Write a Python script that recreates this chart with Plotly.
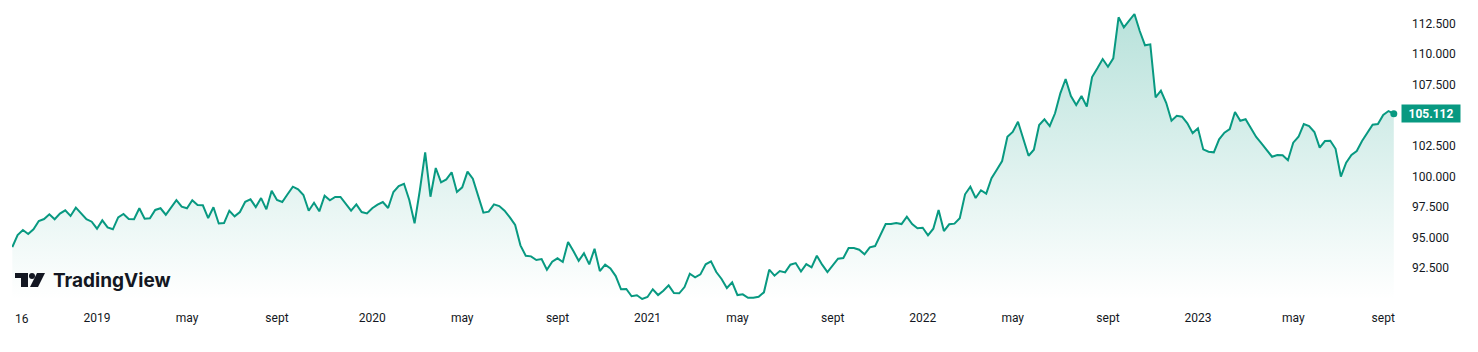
import pandas as pd
import plotly.graph_objects as go

# ---------------- data (weekly closes) ----------------
start_date = "2018-09-16"
dxy_close = [
    94.22, 95.20, 95.61, 95.29, 95.67, 96.35, 96.51, 96.90, 96.49, 96.95,
    97.22, 96.76, 97.44, 96.98, 96.49, 96.29, 95.72, 96.40, 95.83, 95.67,
    96.65, 96.92, 96.51, 96.49, 97.39, 96.54, 96.57, 97.25, 97.39, 96.86,
    97.44, 98.06, 97.52, 97.39, 98.04, 97.65, 97.63, 96.59, 97.47, 96.14,
    96.18, 97.19, 96.73, 97.08, 97.92, 98.12, 97.49, 98.22, 97.30, 98.82,
    98.06, 97.90, 98.53, 99.15, 98.93, 98.47, 97.19, 97.84, 97.14, 98.41,
    98.04, 98.31, 98.31, 97.71, 97.19, 97.71, 97.08, 96.97, 97.39, 97.68,
    97.90, 97.41, 98.72, 99.20, 99.39, 98.06, 96.16, 98.88, 101.96, 98.33,
    100.68, 99.51, 99.75, 100.33, 98.72, 99.10, 100.38, 99.80, 98.39, 97.03,
    97.11, 97.71, 97.57, 97.19, 96.65, 96.02, 94.36, 93.51, 93.46, 93.16,
    93.24, 92.37, 93.02, 93.30, 93.00, 94.63, 93.89, 93.10, 93.71, 92.81,
    94.08, 92.26, 92.78, 92.48, 91.85, 90.77, 90.79, 90.20, 90.28, 89.98,
    90.14, 90.77, 90.30, 90.65, 91.09, 90.47, 90.44, 90.95, 92.04, 91.75,
    91.99, 92.81, 93.05, 92.18, 91.61, 90.87, 91.34, 90.30, 90.36, 90.08,
    90.08, 90.16, 90.52, 92.37, 91.88, 92.26, 92.15, 92.78, 92.91, 92.22,
    92.83, 92.56, 93.51, 92.78, 92.18, 92.73, 93.27, 93.32, 94.14, 94.14,
    94.00, 93.63, 94.20, 94.30, 95.18, 96.10, 96.10, 96.18, 96.10, 96.70,
    96.10, 95.75, 95.80, 95.18, 95.72, 97.25, 95.53, 96.08, 96.13, 96.57,
    98.53, 99.15, 98.23, 98.86, 98.58, 99.84, 100.54, 101.25, 103.23, 103.62,
    104.46, 103.02, 101.68, 102.17, 104.19, 104.66, 104.11, 105.15, 106.78, 107.95,
    106.56, 105.82, 106.56, 105.69, 108.11, 108.82, 109.58, 108.95, 109.64, 112.99,
    112.17, 112.71, 113.26, 111.87, 110.70, 110.78, 106.45, 106.99, 106.01, 104.54,
    104.95, 104.87, 104.33, 103.53, 103.92, 102.20, 102.01, 101.96, 103.02, 103.56,
    103.86, 105.25, 104.54, 104.66, 103.95, 103.21, 102.70, 102.15, 101.60, 101.74,
    101.72, 101.31, 102.75, 103.23, 104.27, 104.11, 103.62, 102.34, 102.88, 102.91,
    102.25, 99.97, 101.11, 101.74, 102.07, 102.88, 103.51, 104.21, 104.27, 105.01,
    105.33, 105.112,
]
dates = pd.date_range(start_date, periods=len(dxy_close), freq="7D")

tick_dates = ["2019-01-06", "2019-05-05", "2019-09-01", "2020-01-05", "2020-05-03",
              "2020-09-06", "2021-01-03", "2021-05-02", "2021-09-05", "2022-01-02",
              "2022-05-01", "2022-09-04", "2023-01-01", "2023-05-07", "2023-09-03"]
tick_labels = ["2019", "may", "sept", "2020", "may", "sept", "2021", "may", "sept",
               "2022", "may", "sept", "2023", "may", "sept"]
first_label = "16"
y_ticks = [92.5, 95.0, 97.5, 100.0, 102.5, 107.5, 110.0, 112.5]
y_range = [89.894, 114.404]
x_range = ["2018-09-15 14:00", "2023-09-25 05:00"]
last_label = "105.112"

# ---------------- styling ----------------
W, H = 1478, 352
ML, MR, MT, MB = 12, 78, 0, 52
PW, PH = W - ML - MR, H - MT - MB
TEAL = "#089981"
TXT = "#131722"
FONT = "Roboto"


def px(x):
    return (x - ML) / PW


def py(y):
    return (PH + MT - y) / PH


fig = go.Figure()
fig.add_trace(go.Scatter(
    x=dates, y=dxy_close, mode="lines",
    line=dict(color=TEAL, width=2),
    fill="tozeroy",
    fillgradient=dict(type="vertical",
                      start=y_range[0], stop=y_range[1],
                      colorscale=[[0, "rgba(8,153,129,0.0)"],
                                  [1, "rgba(8,153,129,0.30)"]]),
    hoverinfo="skip", showlegend=False,
))
fig.add_trace(go.Scatter(
    x=[dates[-1]], y=[dxy_close[-1]], mode="markers",
    marker=dict(color=TEAL, size=7),
    hoverinfo="skip", showlegend=False, cliponaxis=False,
))

annotations = [
    dict(x=1, xref="paper", xanchor="left", xshift=1,
         y=dxy_close[-1], yref="y", yanchor="middle",
         text="<b>" + last_label + "</b>", showarrow=False,
         font=dict(family=FONT, size=12, color="white"),
         bgcolor=TEAL, width=54, height=13, borderpad=2, align="center"),
    dict(x=dates[0], xref="x", xanchor="left", xshift=1,
         y=0, yref="paper", yanchor="top", yshift=-10,
         text=first_label, showarrow=False,
         font=dict(family=FONT, size=12, color=TXT)),
    dict(x=px(51), xref="paper", xanchor="left",
         y=py(280.5), yref="paper", yanchor="middle",
         text="TradingView", showarrow=False,
         font=dict(family="Inter", size=19, color=TXT, weight=700)),
]

shapes = [
    dict(type="rect", xref="paper", yref="paper", x0=px(15), x1=px(28), y0=py(278), y1=py(273),
         fillcolor=TXT, line_width=0),
    dict(type="rect", xref="paper", yref="paper", x0=px(21), x1=px(28), y0=py(287), y1=py(273),
         fillcolor=TXT, line_width=0),
    dict(type="circle", xref="paper", yref="paper", x0=px(29), x1=px(35), y0=py(279), y1=py(273),
         fillcolor=TXT, line_width=0),
    dict(type="path", xref="paper", yref="paper",
         path=f"M {px(37)} {py(273)} L {px(45)} {py(273)} L {px(38)} {py(287)} L {px(30)} {py(287)} Z",
         fillcolor=TXT, line_width=0),
]

fig.update_layout(
    width=W, height=H,
    margin=dict(l=ML, r=MR, t=MT, b=MB, pad=0),
    paper_bgcolor="white", plot_bgcolor="white",
    font=dict(family=FONT, size=12, color=TXT),
    annotations=annotations, shapes=shapes,
    hovermode=False,
    xaxis=dict(type="date", range=x_range, tickvals=tick_dates, ticktext=tick_labels,
               showgrid=False, zeroline=False, showline=False, ticks="",
               ticklabelstandoff=9, tickfont=dict(family=FONT, size=12, color=TXT)),
    yaxis=dict(side="right", range=y_range, tickvals=y_ticks, tickformat=".3f",
               showgrid=False, zeroline=False, showline=False, ticks="",
               ticklabelstandoff=11, tickfont=dict(family=FONT, size=12, color=TXT)),
)

fig.write_html("out.html", config={"displayModeBar": False})
